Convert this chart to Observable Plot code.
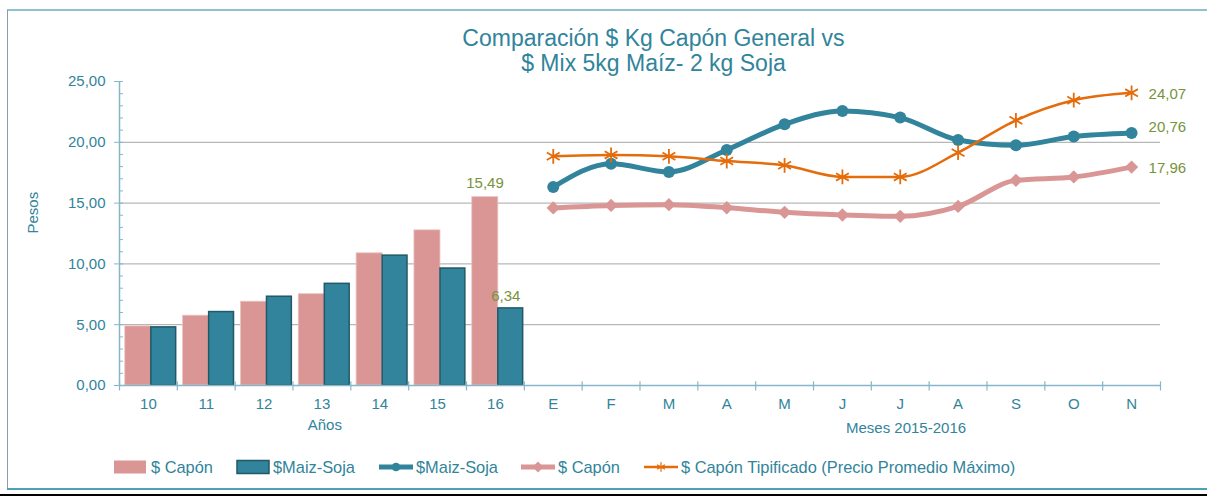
<!DOCTYPE html>
<html>
<head>
<meta charset="utf-8">
<script src="https://cdn.jsdelivr.net/npm/d3@7"></script>
<script src="https://cdn.jsdelivr.net/npm/@observablehq/plot@0.6"></script>
<style>
  html, body { margin: 0; padding: 0; background: #fff; }
  body { width: 1207px; height: 498px; position: relative; overflow: hidden; font-family: "Liberation Sans", Arial, sans-serif; }
  .border { position: absolute; z-index: 5; }
  #topline { left: 7px; top: 9px; width: 1200px; height: 0; border-top: 2px solid #8FC1CF; }
  #leftline { left: 7px; top: 10px; width: 0; height: 479px; border-left: 1px solid #8E9CA3; }
  #botline { left: 7px; top: 488px; width: 1200px; height: 0; border-top: 2px solid #4FA0B5; }
  #blackline { left: 0; top: 494px; width: 1207px; height: 0; border-top: 2px solid #000; }
  #title { position: absolute; left: 0; top: 26px; width: 1207px; text-align: center; color: #31849B; font-size: 23px; line-height: 25px; padding-left: 100px; box-sizing: border-box; }
  #chart { position: absolute; left: 0; top: 72px; }
  #chart svg { background: transparent !important; }
  #legend { position: absolute; left: 0; top: 457px; width: 1207px; height: 20px; color: #31849B; font-size: 16.4px; }
  #legend .sw { position: absolute; top: 2px; }
  #legend .lab { position: absolute; top: 0px; line-height: 20px; white-space: nowrap; }
</style>
</head>
<body>
<div id="topline" class="border"></div>
<div id="leftline" class="border"></div>
<div id="title">Comparación $ Kg Capón General vs<br>$ Mix 5kg Maíz- 2 kg Soja</div>
<div id="chart"></div>
<div id="legend"></div>
<div id="botline" class="border"></div>
<div id="blackline" class="border"></div>
<script>
// ---- data ----
const xLabels = ["10","11","12","13","14","15","16","E","F","M","A","M","J","J","A","S","O","N"];
const yearLabels = ["10","11","12","13","14","15","16"];
const capBars  = [4.86, 5.74, 6.89, 7.51, 10.87, 12.76, 15.49];
const maizBars = [4.78, 6.04, 7.30, 8.36, 10.68, 9.62, 6.34];
const monthLabels = ["E","F","M","A","M","J","J","A","S","O","N"];
const maizLine  = [16.32, 18.24, 17.56, 19.37, 21.48, 22.58, 22.03, 20.19, 19.75, 20.47, 20.76];
const caponLine = [14.60, 14.81, 14.87, 14.62, 14.24, 14.02, 13.91, 14.73, 16.87, 17.15, 17.96];
const tipLine   = [18.85, 18.96, 18.85, 18.46, 18.11, 17.15, 17.15, 19.15, 21.81, 23.46, 24.07];
const yTicks = [0, 5, 10, 15, 20, 25];
const gridVals = [5, 10, 15, 20];

// ---- styles ----
const cPink = "#D99694", cTeal = "#31849B", cTealDark = "#215968", cOrange = "#E46C0A";
const cText = "#31849B", cLabel = "#77933C", cAxis = "#86B7C9", cGrid = "#A6A6A6";
const fmt = d => d.toFixed(2).replace(".", ",");

const off = yearLabels.length;
const bars = yearLabels.map((y, i) => ({i, cap: capBars[i], maiz: maizBars[i]}));
const mk = arr => arr.map((v, j) => ({i: j + off, v}));
const lMaiz = mk(maizLine), lCap = mk(caponLine), lTip = mk(tipLine);
const n = xLabels.length;
const bounds = d3.range(n + 1).map(k => k - 0.5);
const minor = d3.range(0, 26);
const last = a => a[a.length - 1];

const chart = Plot.plot({
  width: 1207,
  height: 370,
  marginLeft: 119,
  marginRight: 47,
  marginTop: 9,
  marginBottom: 57,
  style: {fontFamily: "'Liberation Sans', Arial, sans-serif", fontSize: "15px", color: cText, background: "transparent"},
  x: {type: "linear", domain: [-0.5, n - 0.5]},
  y: {domain: [0, 25]},
  marks: [
    Plot.ruleY(gridVals, {x1: -0.5, x2: n - 0.5, stroke: cGrid, strokeWidth: 1}),
    Plot.rect(bars, {x1: d => d.i - 0.4, x2: d => d.i + 0.05, y1: 0, y2: "cap", fill: cPink, stroke: "#EAC4C3", strokeWidth: 0.8}),
    Plot.rect(bars, {x1: d => d.i + 0.05, x2: d => d.i + 0.48, y1: 0, y2: "maiz", fill: cTeal, stroke: cTealDark, strokeWidth: 1.5}),
    // axes lines and ticks
    Plot.ruleY([0], {x1: -0.5, x2: n - 0.5, stroke: cAxis, strokeWidth: 1.5}),
    Plot.ruleX([-0.5], {y1: 0, y2: 25, stroke: cAxis, strokeWidth: 1.5}),
    Plot.ruleX(bounds, {x: d => d, y1: 0.3, y2: -0.45, stroke: cAxis, strokeWidth: 1.2}),
    Plot.ruleY(minor, {y: d => d, x1: -0.5, x2: -0.5 + 4 / 57.9, stroke: cAxis, strokeWidth: 1}),
    Plot.ruleY(yTicks, {y: d => d, x1: -0.5 - 5 / 57.9, x2: -0.5, stroke: cAxis, strokeWidth: 1}),
    Plot.axisY({ticks: yTicks, tickSize: 0, tickPadding: 14, tickFormat: fmt, label: null, fill: cText, fontSize: 15}),
    Plot.axisX({ticks: d3.range(n), tickSize: 0, tickPadding: 13, tickFormat: i => xLabels[i], label: null, fill: cText, fontSize: 15}),
    Plot.text(["Años"], {x: 3.05, frameAnchor: "bottom", dy: 44, fill: cText, fontSize: 15}),
    Plot.text(["Meses 2015-2016"], {x: 13.1, frameAnchor: "bottom", dy: 47, fill: cText, fontSize: 15}),
    Plot.text(["Pesos"], {frameAnchor: "left", dx: -86, rotate: -90, fill: cText, fontSize: 15}),
    // lines
    Plot.line(lCap, {x: "i", y: "v", stroke: cPink, strokeWidth: 5, curve: "monotone-x"}),
    Plot.dot(lCap, {x: "i", y: "v", symbol: "diamond2", r: 6, fill: cPink}),
    Plot.line(lMaiz, {x: "i", y: "v", stroke: cTeal, strokeWidth: 5, curve: "monotone-x"}),
    Plot.dot(lMaiz, {x: "i", y: "v", symbol: "circle", r: 6, fill: cTeal}),
    Plot.line(lTip, {x: "i", y: "v", stroke: cOrange, strokeWidth: 2.5, curve: "monotone-x"}),
    Plot.dot(lTip, {x: "i", y: "v", symbol: "asterisk", r: 7, stroke: cOrange, strokeWidth: 1.8}),
    // data labels
    Plot.text([last(bars)], {x: d => d.i - 0.18, y: "cap", text: d => fmt(d.cap), dy: -14, fill: cLabel, fontSize: 15}),
    Plot.text([last(bars)], {x: d => d.i + 0.18, y: "maiz", text: d => fmt(d.maiz), dy: -12, fill: cLabel, fontSize: 15}),
    Plot.text([last(lTip)], {x: "i", y: "v", text: d => fmt(d.v), textAnchor: "start", dx: 17, dy: 1, fill: cLabel, fontSize: 15}),
    Plot.text([last(lMaiz)], {x: "i", y: "v", text: d => fmt(d.v), textAnchor: "start", dx: 17, dy: -6, fill: cLabel, fontSize: 15}),
    Plot.text([last(lCap)], {x: "i", y: "v", text: d => fmt(d.v), textAnchor: "start", dx: 17, dy: 1, fill: cLabel, fontSize: 15})
  ]
});
document.getElementById("chart").appendChild(chart);

// ---- legend ----
const legendItems = [
  {label: "$ Capón", kind: "bar", fill: cPink, stroke: "none", sx: 113, tx: 151},
  {label: "$Maiz-Soja", kind: "bar", fill: cTeal, stroke: cTealDark, sx: 236, tx: 273},
  {label: "$Maiz-Soja", kind: "line", color: cTeal, width: 5, sym: "circle", sx: 378, tx: 416},
  {label: "$ Capón", kind: "line", color: cPink, width: 5, sym: "diamond", sx: 520, tx: 558},
  {label: "$ Capón Tipificado (Precio Promedio Máximo)", kind: "line", color: cOrange, width: 2.5, sym: "asterisk", sx: 643, tx: 681}
];
const leg = d3.select("#legend");
legendItems.forEach(it => {
  const s = leg.append("svg").attr("class", "sw").style("left", it.sx + "px").attr("width", 36).attr("height", 16);
  if (it.kind === "bar") {
    s.append("rect").attr("x", 1).attr("y", 1.5).attr("width", 32).attr("height", 13)
      .attr("fill", it.fill).attr("stroke", it.stroke).attr("stroke-width", 1.5);
  } else {
    s.append("line").attr("x1", 1).attr("x2", 35).attr("y1", 8).attr("y2", 8)
      .attr("stroke", it.color).attr("stroke-width", it.width);
    const sym = it.sym === "circle" ? d3.symbolCircle : it.sym === "diamond" ? d3.symbolSquare : d3.symbolAsterisk;
    const p = s.append("path").attr("d", d3.symbol(sym, 60)())
      .attr("transform", `translate(18,8)${it.sym === "diamond" ? " rotate(45)" : ""}`);
    if (it.sym === "asterisk") p.attr("fill", "none").attr("stroke", it.color).attr("stroke-width", 1.2);
    else p.attr("fill", it.color);
  }
  leg.append("span").attr("class", "lab").style("left", it.tx + "px").text(it.label);
});
</script>
</body>
</html>
